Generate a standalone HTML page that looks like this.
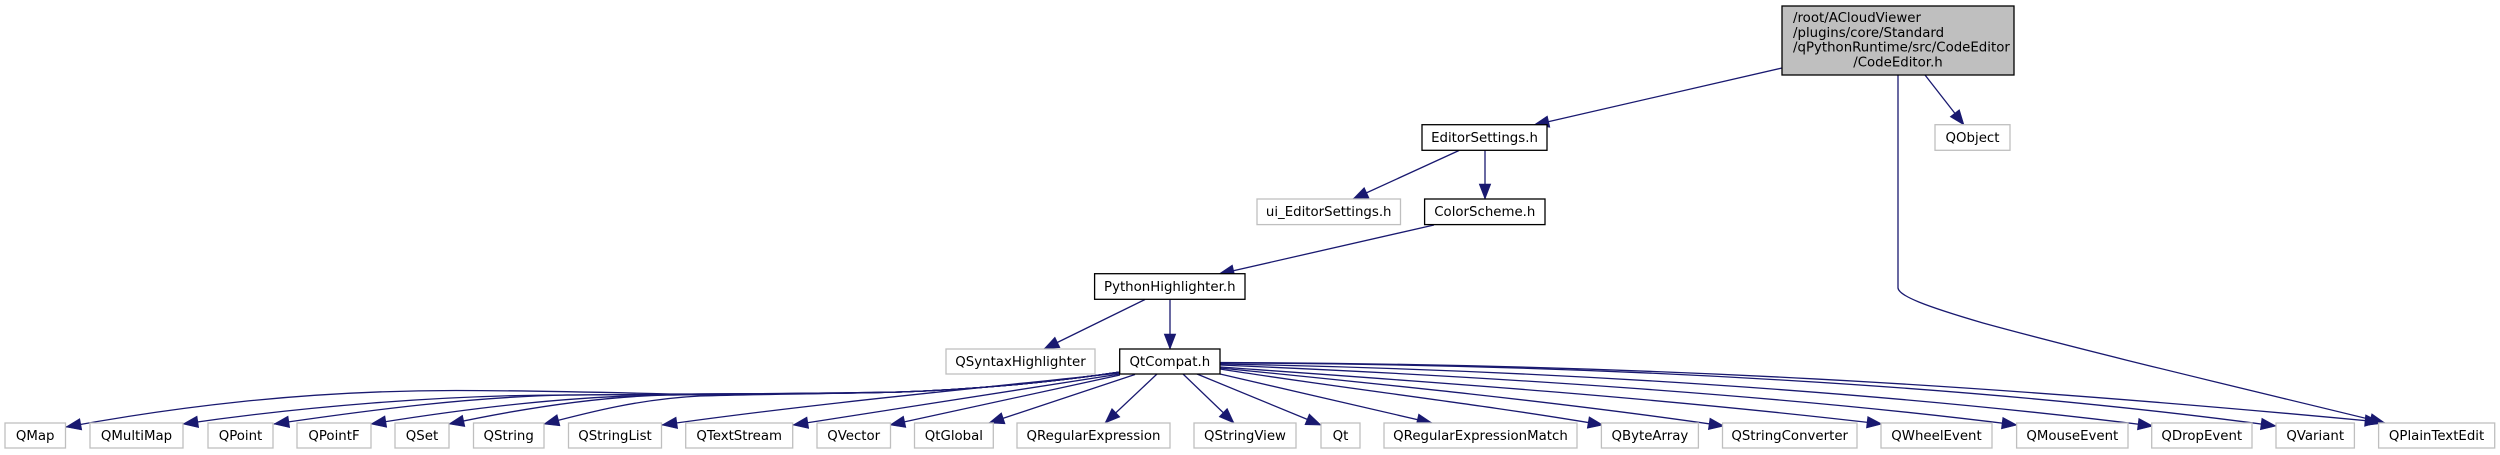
<!DOCTYPE html>
<html>
<head>
<meta charset="utf-8">
<style>
html,body{margin:0;padding:0;background:#fff;width:2500px;height:455px;overflow:hidden}
svg{display:block}
text{font-family:"DejaVu Sans","Liberation Sans",sans-serif;font-size:13.33px;fill:#000;text-anchor:middle}
.g{fill:#fff;stroke:#bfbfbf;stroke-width:1.3}
.b{fill:#fff;stroke:#000;stroke-width:1.3}
.e{fill:none;stroke:#191970;stroke-width:1.3}
</style>
</head>
<body>
<svg width="2500" height="455" viewBox="0 0 2500 455" xmlns="http://www.w3.org/2000/svg">
<defs>
<marker id="a" markerUnits="userSpaceOnUse" markerWidth="18" markerHeight="16" refX="16" refY="8" orient="auto" overflow="visible">
<path d="M1,2.2 L16,8 L1,13.8 Z" fill="#191970" stroke="#191970" stroke-width="0.6"/>
</marker>
</defs>
<g class="e">
<path marker-end="url(#a)" d="M1782,68 L1534,125"/>
<path marker-end="url(#a)" d="M1925,75 L1964,125"/>
<path marker-end="url(#a)" d="M1898,75 V288 C1899,296 1925,306 1983,323 C2100,355 2250,390 2385,423"/>
<path marker-end="url(#a)" d="M1459,150.5 L1353,199"/>
<path marker-end="url(#a)" d="M1485,150.5 L1485,199"/>
<path marker-end="url(#a)" d="M1434,225 L1219,274"/>
<path marker-end="url(#a)" d="M1145,299.5 L1044,349"/>
<path marker-end="url(#a)" d="M1170,299.5 L1170,349"/>
<path marker-end="url(#a)" d="M1120,372 C1040,384 960,390 900,392 C830,394 750,394 670,394 C590,392 520,390.5 456,390.5 C300,390.5 170,408 66,427"/>
<path marker-end="url(#a)" d="M1120,372 C1040,384 960,390 900,392 C800,394 680,394 567,395 C440,395 300,407 183,424"/>
<path marker-end="url(#a)" d="M1120,372 C1040,384 960,390 900,392 C800,394 680,394 567,395 C470,397 370,410 274,424"/>
<path marker-end="url(#a)" d="M1120,372 C1040,384 960,390 900,392 C820,394 740,394 667,395 C570,396 470,408 371,424"/>
<path marker-end="url(#a)" d="M1120,372 C1040,384 960,390 900,392 C820,394 740,394 667,395 C590,397 510,411 449,424"/>
<path marker-end="url(#a)" d="M1120,372 C1040,384 960,390 900,392 C830,394 760,394 700,396 C640,399 590,412 544,424"/>
<path marker-end="url(#a)" d="M1120,373 C980,388 810,404 662,425"/>
<path marker-end="url(#a)" d="M1120,374 L793,425"/>
<path marker-end="url(#a)" d="M1120,375 L890,425"/>
<path marker-end="url(#a)" d="M1135,374.5 L989,423"/>
<path marker-end="url(#a)" d="M1157,374 L1105,423"/>
<path marker-end="url(#a)" d="M1183,374 L1234,423"/>
<path marker-end="url(#a)" d="M1197,374 L1321,425"/>
<path marker-end="url(#a)" d="M1220,374 L1432,423"/>
<path marker-end="url(#a)" d="M1220,369 C1340,388 1480,404 1603,425"/>
<path marker-end="url(#a)" d="M1220,368 C1380,384 1560,402 1724,426"/>
<path marker-end="url(#a)" d="M1220,367 C1430,382 1650,397 1882,424"/>
<path marker-end="url(#a)" d="M1220,365 C1480,376 1780,395 2017,425"/>
<path marker-end="url(#a)" d="M1220,364 C1550,370 1880,392 2153,426"/>
<path marker-end="url(#a)" d="M1220,363 C1600,364 1980,386 2276,426"/>
<path marker-end="url(#a)" d="M1220,362.5 C1650,364 1990,385 2380,422"/>
</g>

<rect x="1782" y="6" width="232" height="69" style="fill:#bfbfbf;stroke:#000;stroke-width:1.3"/>
<text x="1793" y="22" style="text-anchor:start">/root/ACloudViewer</text>
<text x="1793" y="37" style="text-anchor:start">/plugins/core/Standard</text>
<text x="1793" y="51.5" style="text-anchor:start">/qPythonRuntime/src/CodeEditor</text>
<text x="1898" y="66.5">/CodeEditor.h</text>

<rect class="b" x="1422" y="124.7" width="125" height="25.6"/><text x="1484.5" y="142">EditorSettings.h</text>
<rect class="g" x="1935" y="124.7" width="75" height="25.6"/><text x="1972.5" y="142">QObject</text>
<rect class="g" x="1257" y="199" width="143.5" height="25.6"/><text x="1328.7" y="216">ui_EditorSettings.h</text>
<rect class="b" x="1424.6" y="199" width="120.4" height="25.6"/><text x="1484.8" y="216">ColorScheme.h</text>
<rect class="b" x="1094.6" y="273.7" width="150.4" height="25.6"/><text x="1169.8" y="291">PythonHighlighter.h</text>
<rect class="g" x="946" y="349" width="149" height="25"/><text x="1020.5" y="366">QSyntaxHighlighter</text>
<rect class="b" x="1119.7" y="349" width="100.3" height="25"/><text x="1169.8" y="366">QtCompat.h</text>

<rect class="g" x="5" y="423" width="60.5" height="25"/><text x="35.2" y="440">QMap</text>
<rect class="g" x="90" y="423" width="93" height="25"/><text x="136.5" y="440">QMultiMap</text>
<rect class="g" x="208" y="423" width="65" height="25"/><text x="240.5" y="440">QPoint</text>
<rect class="g" x="297" y="423" width="74" height="25"/><text x="334" y="440">QPointF</text>
<rect class="g" x="395" y="423" width="54" height="25"/><text x="422" y="440">QSet</text>
<rect class="g" x="473.5" y="423" width="70.5" height="25"/><text x="508.7" y="440">QString</text>
<rect class="g" x="568.5" y="423" width="93" height="25"/><text x="615" y="440">QStringList</text>
<rect class="g" x="685.7" y="423" width="107" height="25"/><text x="739.2" y="440">QTextStream</text>
<rect class="g" x="817" y="423" width="73.5" height="25"/><text x="853.7" y="440">QVector</text>
<rect class="g" x="914.5" y="423" width="78.8" height="25"/><text x="953.9" y="440">QtGlobal</text>
<rect class="g" x="1017" y="423" width="153" height="25"/><text x="1093.5" y="440">QRegularExpression</text>
<rect class="g" x="1194" y="423" width="102" height="25"/><text x="1245" y="440">QStringView</text>
<rect class="g" x="1321" y="423" width="39" height="25"/><text x="1340.5" y="440">Qt</text>
<rect class="g" x="1384" y="423" width="193" height="25"/><text x="1480.5" y="440">QRegularExpressionMatch</text>
<rect class="g" x="1601.4" y="423" width="97" height="25"/><text x="1649.9" y="440">QByteArray</text>
<rect class="g" x="1722.5" y="423" width="134.5" height="25"/><text x="1789.7" y="440">QStringConverter</text>
<rect class="g" x="1881" y="423" width="111" height="25"/><text x="1936.5" y="440">QWheelEvent</text>
<rect class="g" x="2016.6" y="423" width="111.4" height="25"/><text x="2072.3" y="440">QMouseEvent</text>
<rect class="g" x="2151.7" y="423" width="100.3" height="25"/><text x="2201.8" y="440">QDropEvent</text>
<rect class="g" x="2276" y="423" width="78.4" height="25"/><text x="2315.2" y="440">QVariant</text>
<rect class="g" x="2378.6" y="423" width="116.1" height="25"/><text x="2436.6" y="440">QPlainTextEdit</text>
</svg>
</body>
</html>
